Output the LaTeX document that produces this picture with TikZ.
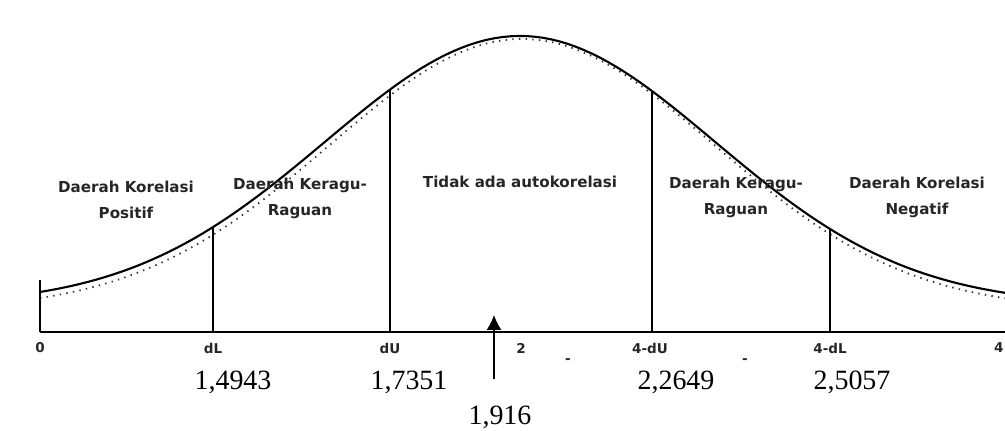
\documentclass[tikz,border=0pt]{standalone}
\usepackage{fontspec}
\setmainfont{Liberation Serif}
\newfontfamily\lblfont{DejaVu Sans}
\usetikzlibrary{arrows.meta,positioning,calc}

\begin{document}
\begin{tikzpicture}[
    x=0.02cm, y=-0.02cm,
    declare function={bell(\t)=305-269*exp(-0.5*((\t-520)/195)^2);
                      bellb(\t)=310-271*exp(-0.5*((\t-522)/193)^2);},
    curve/.style={line width=1.2pt},
    scan/.style={line width=1pt, dash pattern=on 0.8pt off 3pt, black!80},
    axis/.style={line width=1.6pt},
    bound/.style={line width=0.8pt},
    region/.style={font=\lblfont\bfseries\fontsize{8.6}{14.7}\selectfont, align=center, text=black!85},
    tick/.style={font=\lblfont\bfseries\fontsize{7.7}{9}\selectfont, text=black!85},
    value/.style={font=\fontsize{15.9}{18}\selectfont},
    arrow/.style={-{Latex[length=8.5pt,width=8.5pt]}, line width=0.8pt}
]
    \useasboundingbox (0,0) rectangle (1005,431);

    % Curve
    \draw[scan] plot[domain=40:1005, samples=120] (\x, {bellb(\x)});
    \draw[curve] plot[domain=40:1005, samples=120] (\x, {bell(\x)});

    % Axis
    \coordinate (origin) at (40,332);
    \coordinate (axisend) at (1005,332);
    \coordinate (lefttop) at (40,280);
    \draw[axis] (origin) -- (axisend);
    \draw[bound] (lefttop) -- (origin);

    % Boundaries
    \coordinate (dLbase) at (213,332);
    \coordinate (dLtop) at (213,{bell(213)});
    \coordinate (dUbase) at (390,332);
    \coordinate (dUtop) at (390,{bell(390)});
    \coordinate (udUbase) at (652,332);
    \coordinate (udUtop) at (652,{bell(652)});
    \coordinate (udLbase) at (830,332);
    \coordinate (udLtop) at (830,{bell(830)});
    \draw[bound] (dLbase) -- (dLtop);
    \draw[bound] (dUbase) -- (dUtop);
    \draw[bound] (udUbase) -- (udUtop);
    \draw[bound] (udLbase) -- (udLtop);

    % Regions
    \node[region] (pos) at (126,200) {Daerah Korelasi\\Positif};
    \node[region] (ragul) at (300,198) {Daerah Keragu-\\Raguan};
    \node[region] (none) at (520,182) {Tidak ada autokorelasi};
    \node[region] (ragur) at (736,197) {Daerah Keragu-\\Raguan};
    \node[region] (neg) at (917,197) {Daerah Korelasi\\Negatif};

    % Ticks
    \node[tick] (t0) at (40,348) {0};
    \node[tick] (tdL) at (213,348) {dL};
    \node[tick] (tdU) at (390,348) {dU};
    \node[tick] (t2) at (521,348) {2};
    \node[tick] (tudU) at (650,348) {4-dU};
    \node[tick] (tudL) at (830,348) {4-dL};
    \node[tick, inner xsep=0pt, anchor=east] (t4) at (1004,348) {4};
    \node[tick] (m1) at (568,361) {-};
    \node[tick] (m2) at (745,361) {-};

    % Values
    \node[value] (vdL) at (233,382) {1,4943};
    \node[value] (vdU) at (409,382) {1,7351};
    \node[value] (vudU) at (676,382) {2,2649};
    \node[value] (vudL) at (852,382) {2,5057};
    \node[value] (vdw) at (500,417) {1,916};

    % Arrow
    \coordinate (dwtail) at (494,379);
    \coordinate (dwtip) at (494,315);
    \draw[arrow] (dwtail) -- (dwtip);

\end{tikzpicture}
\end{document}
